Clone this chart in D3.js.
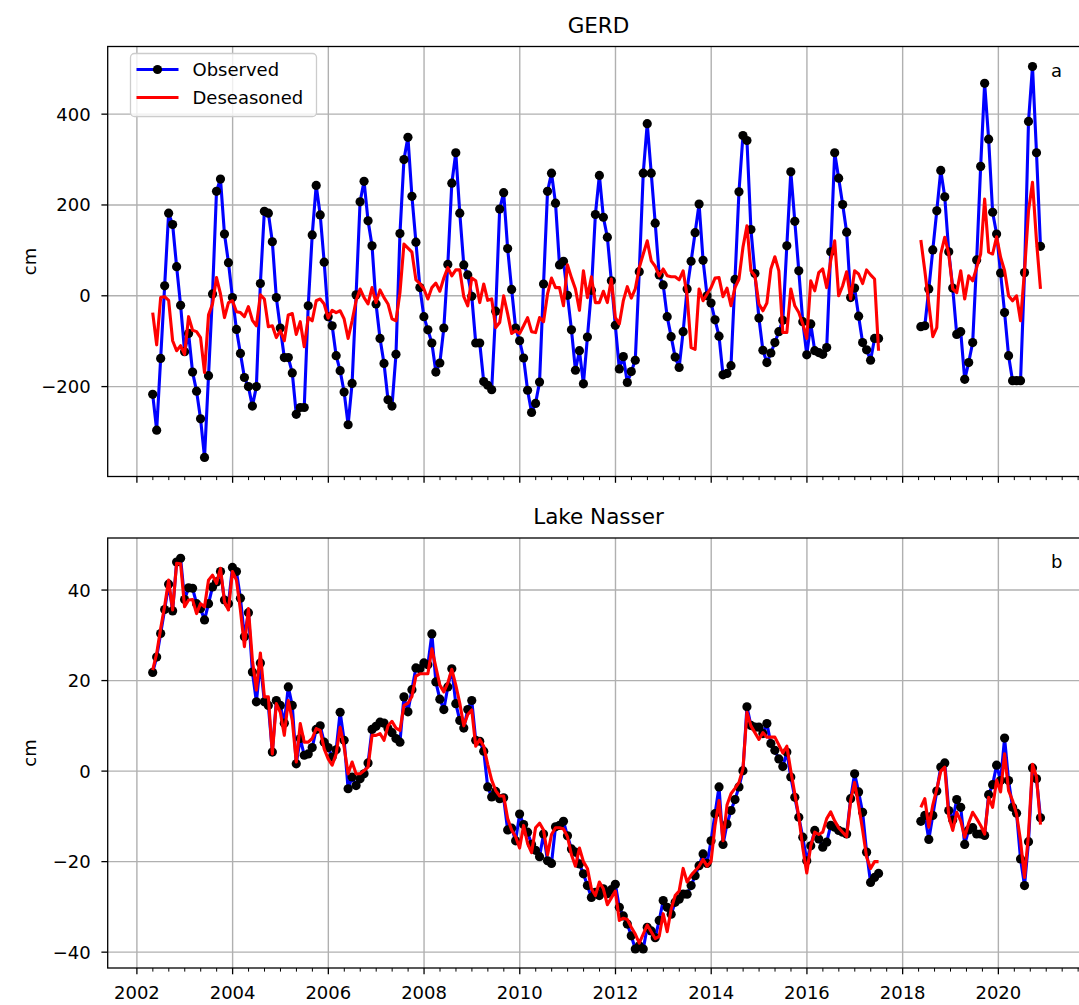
<!DOCTYPE html>
<html>
  <head>
    <title>GERD and Lake Nasser</title>
    <script src="https://d3js.org/d3.v7.min.js"></script>
    <style>
      body { margin: 0; background: #fff; }
      svg { font-family: "DejaVu Sans", sans-serif; }
    </style>
  </head>
  <body>
    <div id="chart"></div>
    <script>
      // first month of each mission, as decimal year; one value per month after that
      const graceStart = 2002.33;
      const foStart = 2018.38;

      // GERD (cm)
      const gerdObs = [
        -217, -296, -138, 22, 182, 157, 64, -21, -123, -83, -168, -210, -271, -356, -176, 4, 230, 257, 136, 73,
        -4, -74, -127, -180, -200, -243, -200, 27, 186, 182, 119, -4, -71, -136, -136, -170, -261, -246, -246, -22,
        134, 243, 178, 74, -46, -66, -132, -165, -212, -284, -193, 2, 207, 252, 165, 110, -18, -94, -149, -229,
        -243, -129, 137, 300, 349, 219, 118, 18, -46, -75, -104, -168, -148, -71, 69, 248, 315, 182, 68, 46,
        -1, -104, -104, -189, -197, -207, -34, 191, 227, 104, 14, -71, -99, -137, -208, -257, -237, -190, 26, 230,
        270, 204, 68, 76, 1, -75, -164, -121, -194, -91, 12, 179, 265, 173, 129, 33, -65, -161, -134, -191,
        -167, -142, 53, 270, 379, 270, 160, 46, 24, -46, -90, -135, -158, -79, 15, 76, 139, 202, 78, 0,
        -16, -53, -89, -174, -171, -154, 36, 229, 353, 342, 146, 49, -49, -120, -147, -126, -103, -79, -54, 110,
        273, 164, 55, -57, -130, -62, -121, -125, -129, -114, 97, 315, 259, 201, 140, -4, 17, -45, -103, -119,
        -142, -94, -94
      ];
      const gerdDes = [
        -37, -108, -4, -2, -10, -99, -121, -110, -129, -46, -76, -79, -92, -169, -42, -18, 40, 4, -48, -15,
        -11, -35, -37, -46, -24, -54, -66, 2, -7, -68, -66, -92, -77, -99, -42, -39, -85, -57, -112, -48,
        -55, -11, -7, -18, -49, -32, -37, -33, -51, -94, -55, -11, 15, -4, -18, 18, -15, 13, -4, -18,
        -51, -55, 7, 114, 105, 96, 35, 27, 15, -7, 18, 28, 10, 39, 62, 44, 57, 57, -2, -22,
        39, 33, -15, 26, -10, -7, -70, -59, 0, -40, -83, -77, -83, -66, -48, -79, -81, -48, -57, 4,
        39, 18, 18, -22, 68, 40, 15, -32, 55, -4, 42, -15, -15, 10, -15, 37, -48, -62, -11, 20,
        -5, 15, 62, 92, 121, 77, 65, 44, 59, 44, 42, 42, 35, 55, 0, -114, -118, 15, -11, 4,
        18, 39, 40, -2, 17, -22, 18, 37, 107, 154, 55, 44, -18, -33, -16, 59, 86, 55, -81, -81,
        15, -22, -37, -62, -94, 33, 11, 51, 59, 18, 77, 121, 0, 22, 53, -7, 55, 48, 27, 57,
        46, 37, -121
      ];
      const gerdObsFO = [
        -68, -66, 15, 101, 187, 276, 218, 97, 17, -85, -79, -184, -147, -103, 79, 285, 468, 345, 184, 136,
        50, -37, -132, -187, -187, -187, 51, 384, 505, 315, 109
      ];
      const gerdDesFO = [
        123, 55, -18, -90, -70, 92, 129, 92, 15, 7, 55, -7, 44, 33, 62, 92, 213, 96, 92, 130,
        85, 55, 0, -11, 0, -55, 55, 187, 250, 121, 15
      ];

      // Lake Nasser (cm)
      const nasserObs = [
        21.8, 25.2, 30.4, 35.7, 41.3, 35.4, 46.2, 47.0, 37.9, 40.5, 40.4, 37.0, 35.9, 33.4, 37.0, 40.7, 41.8, 44.1, 37.8, 37.0,
        45.0, 44.1, 38.2, 29.7, 35.0, 21.9, 15.3, 23.9, 15.3, 14.5, 4.2, 15.6, 14.5, 10.6, 18.6, 14.5, 1.6, 7.2, 3.5, 3.8,
        5.2, 9.2, 10.0, 6.4, 5.2, 3.1, 4.7, 13.0, 6.8, -3.9, -1.3, -3.2, -1.7, -0.6, 1.8, 9.2, 9.9, 10.8, 10.6, 9.4,
        8.5, 7.2, 6.4, 16.4, 13.1, 18.0, 22.8, 22.6, 23.9, 23.5, 30.3, 19.7, 15.9, 13.6, 18.6, 22.6, 14.9, 11.2, 9.5, 13.6,
        15.6, 6.8, 6.6, 4.4, -3.5, -5.7, -4.5, -6.1, -5.9, -13.0, -12.6, -15.4, -9.5, -11.8, -13.5, -16.2, -17.5, -18.9, -13.9, -19.8,
        -20.4, -12.3, -12.0, -11.1, -14.3, -17.2, -17.9, -20.5, -22.7, -25.3, -27.9, -26.8, -27.5, -26.0, -27.1, -26.2, -25.0, -30.1, -32.0, -33.8,
        -36.4, -39.3, -38.6, -39.3, -34.5, -35.3, -36.8, -33.0, -28.6, -30.1, -31.6, -29.0, -28.3, -27.2, -27.2, -25.3, -23.1, -20.9, -18.3, -20.4,
        -15.4, -9.4, -3.5, -16.2, -11.7, -8.7, -6.3, -3.5, 0.1, 14.2, 10.1, 9.7, 9.7, 8.3, 10.5, 6.1, 4.6, 2.7, 1.0, 4.2,
        -1.3, -5.8, -10.2, -14.6, -19.8, -16.5, -13.1, -15.0, -16.8, -15.7, -12.0, -12.4, -13.1, -13.5, -13.9, -6.1, -0.6, -4.6, -9.1, -17.9,
        -24.6, -23.5, -22.6
      ];
      const nasserDes = [
        22.3, 26.0, 31.5, 36.5, 42.2, 35.6, 45.9, 45.8, 36.3, 37.8, 37.9, 34.8, 37.0, 36.3, 42.2, 43.3, 41.5, 44.8, 37.4, 35.6,
        44.1, 42.2, 35.6, 27.5, 35.9, 24.5, 17.9, 26.1, 16.4, 16.4, 3.8, 14.9, 13.0, 7.9, 15.6, 11.2, 2.0, 10.5, 6.4, 6.4,
        7.2, 9.4, 9.0, 4.9, 2.7, 1.3, 3.8, 9.7, 5.3, -0.6, 2.0, -0.6, -0.6, 0.1, 0.9, 7.9, 7.9, 8.3, 6.8, 10.0,
        11.0, 9.5, 9.0, 14.5, 15.0, 16.5, 21.0, 21.5, 21.5, 21.5, 27.0, 23.0, 19.0, 17.5, 19.5, 22.5, 19.0, 15.0, 10.0, 12.5,
        13.5, 5.5, 7.0, 5.5, 1.5, -2.0, -4.3, -5.5, -5.5, -10.5, -13.0, -14.5, -17.0, -12.0, -16.0, -18.0, -12.5, -11.5, -13.0, -18.5,
        -14.0, -12.5, -12.5, -12.8, -14.5, -18.5, -21.0, -17.0, -20.0, -21.5, -26.0, -27.5, -24.5, -26.0, -29.5, -28.0, -26.5, -33.0, -32.5, -32.8,
        -34.5, -36.0, -38.0, -36.0, -34.0, -35.5, -37.0, -36.5, -31.5, -35.5, -30.5, -27.5, -26.5, -21.5, -24.5, -23.0, -22.0, -21.0, -19.5, -21.0,
        -20.0, -12.0, -6.5, -15.4, -7.5, -5.0, -3.8, -2.5, 0.5, 13.0, 10.0, 8.5, 7.0, 8.5, 7.5, 7.5, 7.5, 5.8, 4.0, 5.5,
        0.0, -5.0, -10.0, -17.0, -22.5, -16.5, -13.5, -14.0, -13.5, -10.5, -9.0, -11.0, -12.5, -13.5, -14.5, -6.5, -2.5, -7.5, -13.0, -19.0,
        -21.5, -20.0, -20.0
      ];
      const nasserObsFO = [
        -11.1, -9.8, -15.1, -9.8, -4.4, 0.9, 1.8, -8.7, -10.8, -6.3, -8.0, -16.2, -13.0, -12.5, -13.9, -13.9, -14.2, -5.2, -3.0, 1.3,
        -2.1, 7.3, -2.1, -8.0, -9.3, -19.4, -25.3, -15.6, 0.7, -1.7, -10.3
      ];
      const nasserDesFO = [
        -8.0, -6.1, -12.4, -7.5, -4.0, 0.0, 0.9, -10.0, -13.1, -9.1, -11.0, -14.6, -11.5, -9.1, -10.5, -12.0, -13.9, -5.8, -8.0, -2.0,
        -4.6, 3.8, -4.3, -6.5, -9.5, -15.4, -23.5, -13.9, 1.5, -1.3, -11.8
      ];

      // tick labels
      const yearTicks = [2002, 2004, 2006, 2008, 2010, 2012, 2014, 2016, 2018, 2020];
      const gerdTicks = [-200, 0, 200, 400];
      const nasserTicks = [-40, -20, 0, 20, 40];

      const width = 1079, height = 1005;
      const left = 107.7, right = 1089.3;

      const svg = d3
        .select("#chart")
        .append("svg")
        .attr("width", width)
        .attr("height", height)
        .style("display", "block");

      const x = d3.scaleLinear().domain([2001.39, 2021.9]).range([left, right]);

      // minor ticks every 4 months
      const minorTicks = d3.range(2002, 2021.9, 1 / 3).filter(
        (t) => Math.abs(t - Math.round(t / 2) * 2) > 0.01
      );

      function toPoints(start, vals) {
        return vals.map((v, i) => ({ t: start + i / 12, v: v }));
      }

      const panels = [
        {
          title: "GERD", tag: "a", top: 46.5, bottom: 476.5,
          domain: [-398, 549], ticks: gerdTicks, labels: false,
          obs: [toPoints(graceStart, gerdObs), toPoints(foStart, gerdObsFO)],
          des: [toPoints(graceStart, gerdDes), toPoints(foStart, gerdDesFO)],
          legend: true
        },
        {
          title: "Lake Nasser", tag: "b", top: 538, bottom: 968,
          domain: [-43.5, 51.5], ticks: nasserTicks, labels: true,
          obs: [toPoints(graceStart, nasserObs), toPoints(foStart, nasserObsFO)],
          des: [toPoints(graceStart, nasserDes), toPoints(foStart, nasserDesFO)],
          legend: false
        }
      ];

      const lw = 3.1, dotR = 4.6;

      panels.forEach((p) => {
        const y = d3.scaleLinear().domain(p.domain).range([p.bottom, p.top]);
        const g = svg.append("g");

        // grid
        g.selectAll(".vgrid")
          .data(yearTicks)
          .join("line")
          .attr("x1", (d) => x(d)).attr("x2", (d) => x(d))
          .attr("y1", p.top).attr("y2", p.bottom)
          .attr("stroke", "#b0b0b0").attr("stroke-width", 1.4);
        g.selectAll(".hgrid")
          .data(p.ticks)
          .join("line")
          .attr("x1", left).attr("x2", right)
          .attr("y1", (d) => y(d)).attr("y2", (d) => y(d))
          .attr("stroke", "#b0b0b0").attr("stroke-width", 1.4);

        const line = d3.line().x((d) => x(d.t)).y((d) => y(d.v));

        // observed: blue line with black markers
        p.obs.forEach((seg) => {
          g.append("path")
            .datum(seg)
            .attr("d", line)
            .attr("fill", "none")
            .attr("stroke", "#0000ff")
            .attr("stroke-width", lw)
            .attr("stroke-linejoin", "round");
          g.append("g")
            .selectAll("circle")
            .data(seg)
            .join("circle")
            .attr("cx", (d) => x(d.t))
            .attr("cy", (d) => y(d.v))
            .attr("r", dotR)
            .attr("fill", "#000");
        });

        // deseasoned
        p.des.forEach((seg) => {
          g.append("path")
            .datum(seg)
            .attr("d", line)
            .attr("fill", "none")
            .attr("stroke", "#ff0000")
            .attr("stroke-width", lw)
            .attr("stroke-linejoin", "round");
        });

        // spines
        g.append("rect")
          .attr("x", left).attr("y", p.top)
          .attr("width", right - left).attr("height", p.bottom - p.top)
          .attr("fill", "none").attr("stroke", "#000").attr("stroke-width", 1.3);

        // x ticks
        g.selectAll(".xmaj")
          .data(yearTicks)
          .join("line")
          .attr("x1", (d) => x(d)).attr("x2", (d) => x(d))
          .attr("y1", p.bottom).attr("y2", p.bottom + 6.3)
          .attr("stroke", "#000").attr("stroke-width", 1.3);
        g.selectAll(".xmin")
          .data(minorTicks)
          .join("line")
          .attr("x1", (d) => x(d)).attr("x2", (d) => x(d))
          .attr("y1", p.bottom).attr("y2", p.bottom + 3.6)
          .attr("stroke", "#000").attr("stroke-width", 1);
        if (p.labels) {
          g.selectAll(".xlab")
            .data(yearTicks)
            .join("text")
            .attr("x", (d) => x(d))
            .attr("y", p.bottom + 31)
            .attr("text-anchor", "middle")
            .style("font-size", "18px")
            .text((d) => d);
        }

        // y ticks
        g.selectAll(".ytick")
          .data(p.ticks)
          .join("line")
          .attr("x1", left - 6.3).attr("x2", left)
          .attr("y1", (d) => y(d)).attr("y2", (d) => y(d))
          .attr("stroke", "#000").attr("stroke-width", 1.3);
        g.selectAll(".ylab")
          .data(p.ticks)
          .join("text")
          .attr("x", left - 17)
          .attr("y", (d) => y(d) + 6.5)
          .attr("text-anchor", "end")
          .style("font-size", "18px")
          .text((d) => (d < 0 ? "\u2212" + Math.abs(d) : d));

        // y label
        g.append("text")
          .attr("transform", `translate(36,${(p.top + p.bottom) / 2}) rotate(-90)`)
          .attr("text-anchor", "middle")
          .style("font-size", "18px")
          .text("cm");

        // title
        g.append("text")
          .attr("x", (left + right) / 2)
          .attr("y", p.top - 14)
          .attr("text-anchor", "middle")
          .style("font-size", "21.5px")
          .text(p.title);

        // panel tag
        g.append("text")
          .attr("x", 1051)
          .attr("y", p.top + 30)
          .style("font-size", "18px")
          .text(p.tag);

        if (p.legend) {
          const lg = g.append("g").attr("transform", "translate(130.5,53.5)");
          lg.append("rect")
            .attr("width", 186).attr("height", 63).attr("rx", 4)
            .attr("fill", "#fff").attr("fill-opacity", 0.8)
            .attr("stroke", "#cccccc").attr("stroke-width", 1.3);
          lg.append("line")
            .attr("x1", 6).attr("x2", 48).attr("y1", 16).attr("y2", 16)
            .attr("stroke", "#0000ff").attr("stroke-width", lw);
          lg.append("circle").attr("cx", 27).attr("cy", 16).attr("r", dotR).attr("fill", "#000");
          lg.append("line")
            .attr("x1", 6).attr("x2", 48).attr("y1", 44).attr("y2", 44)
            .attr("stroke", "#ff0000").attr("stroke-width", lw);
          lg.append("text").attr("x", 62).attr("y", 22.5).style("font-size", "18px").text("Observed");
          lg.append("text").attr("x", 62).attr("y", 50.5).style("font-size", "18px").text("Deseasoned");
        }
      });
    </script>
  </body>
</html>
